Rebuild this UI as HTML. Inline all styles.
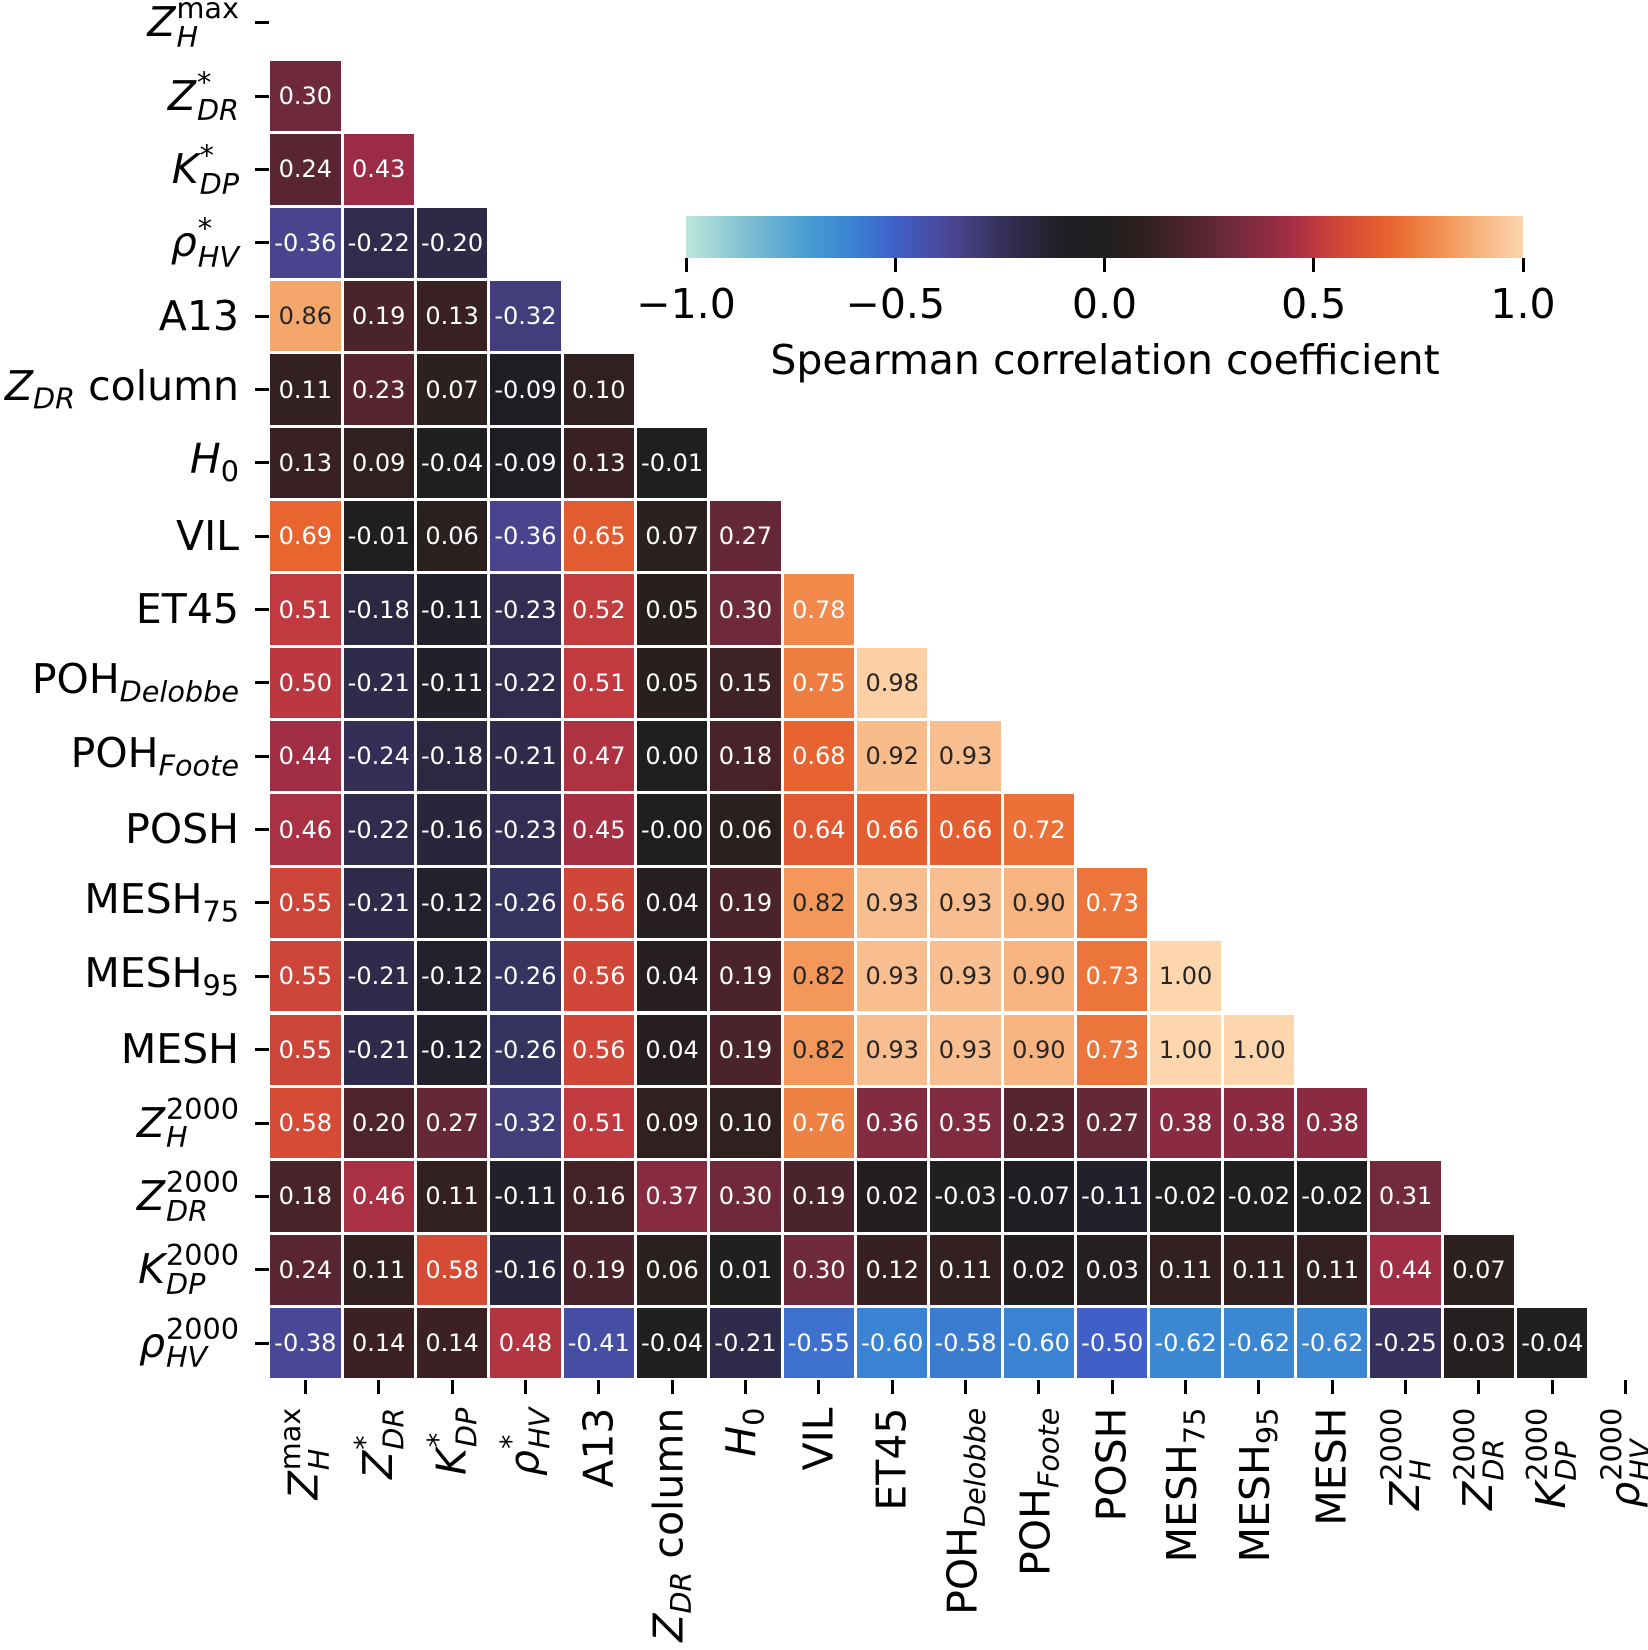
<!DOCTYPE html>
<html><head><meta charset="utf-8">
<style>
html,body{margin:0;padding:0;background:#fff;}
#root{position:relative;width:1648px;height:1650px;overflow:hidden;font-family:"DejaVu Sans","Liberation Sans",sans-serif;color:#000;}
.cell{position:absolute;display:flex;align-items:center;justify-content:center;font-size:24px;}
.ylab{position:absolute;right:1409px;font-size:41px;white-space:nowrap;line-height:1;}
.xlab{position:absolute;font-size:41px;white-space:nowrap;line-height:1;transform-origin:100% 50%;}
.tick{position:absolute;background:#000;}
i{font-style:italic;}
.ss{display:inline-flex;flex-direction:column;font-size:0.7em;line-height:1;vertical-align:0.62em;margin-left:1px;}
.sb{font-size:0.7em;vertical-align:-0.3em;}
.cbl{position:absolute;font-size:41px;transform:translateX(-50%);white-space:nowrap;}
</style></head>
<body>
<div id="root">
  <div id="cbar" style="position:absolute;left:686px;top:216px;width:837px;height:42px;"></div>
  <div class="cbl" style="left:1105px;top:336px;">Spearman correlation coefficient</div>
</div>
<script>
const labels = [
 '<i>Z</i><span class="ss"><span>max</span><i>H</i></span>',
 '<i>Z</i><span class="ss"><span>*</span><i>DR</i></span>',
 '<i>K</i><span class="ss"><span>*</span><i>DP</i></span>',
 '<i>ρ</i><span class="ss"><span>*</span><i>HV</i></span>',
 'A13',
 '<i>Z</i><span class="sb"><i>DR</i></span> column',
 '<i>H</i><span class="sb">0</span>',
 'VIL',
 'ET45',
 'POH<span class="sb"><i>Delobbe</i></span>',
 'POH<span class="sb"><i>Foote</i></span>',
 'POSH',
 'MESH<span class="sb">75</span>',
 'MESH<span class="sb">95</span>',
 'MESH',
 '<i>Z</i><span class="ss"><span>2000</span><i>H</i></span>',
 '<i>Z</i><span class="ss"><span>2000</span><i>DR</i></span>',
 '<i>K</i><span class="ss"><span>2000</span><i>DP</i></span>',
 '<i>ρ</i><span class="ss"><span>2000</span><i>HV</i></span>'
];
const row1=[0.30];
const row2=[0.24,0.43];
const row3=[-0.36,-0.22,-0.20];
const row4=[0.86,0.19,0.13,-0.32];
const row5=[0.11,0.23,0.07,-0.09,0.10];
const row6=[0.13,0.09,-0.04,-0.09,0.13,-0.01];
const row7=[0.69,-0.01,0.06,-0.36,0.65,0.07,0.27];
const row8=[0.51,-0.18,-0.11,-0.23,0.52,0.05,0.30,0.78];
const row9=[0.50,-0.21,-0.11,-0.22,0.51,0.05,0.15,0.75,0.98];
const row10=[0.44,-0.24,-0.18,-0.21,0.47,0.00,0.18,0.68,0.92,0.93];
const row11=[0.46,-0.22,-0.16,-0.23,0.45,-0.001,0.06,0.64,0.66,0.66,0.72];
const row12=[0.55,-0.21,-0.12,-0.26,0.56,0.04,0.19,0.82,0.93,0.93,0.90,0.73];
const row13=[0.55,-0.21,-0.12,-0.26,0.56,0.04,0.19,0.82,0.93,0.93,0.90,0.73,1.00];
const row14=[0.55,-0.21,-0.12,-0.26,0.56,0.04,0.19,0.82,0.93,0.93,0.90,0.73,1.00,1.00];
const row15=[0.58,0.20,0.27,-0.32,0.51,0.09,0.10,0.76,0.36,0.35,0.23,0.27,0.38,0.38,0.38];
const row16=[0.18,0.46,0.11,-0.11,0.16,0.37,0.30,0.19,0.02,-0.03,-0.07,-0.11,-0.02,-0.02,-0.02,0.31];
const row17=[0.24,0.11,0.58,-0.16,0.19,0.06,0.01,0.30,0.12,0.11,0.02,0.03,0.11,0.11,0.11,0.44,0.07];
const row18=[-0.38,0.14,0.14,0.48,-0.41,-0.04,-0.21,-0.55,-0.60,-0.58,-0.60,-0.50,-0.62,-0.62,-0.62,-0.25,0.03,-0.04];
const rows=[[],row1,row2,row3,row4,row5,row6,row7,row8,row9,row10,row11,row12,row13,row14,row15,row16,row17,row18];
const cbTicks=[-1.0,-0.5,0.0,0.5,1.0];
const cbTickLabels=['\u22121.0','\u22120.5','0.0','0.5','1.0'];

const stops=[[-1,[189,231,219]],[-0.85,[125,190,210]],[-0.7,[70,155,210]],[-0.6,[58,130,210]],[-0.5,[64,96,200]],[-0.36,[74,68,143]],[-0.22,[48,44,78]],[-0.09,[31,30,36]],[0,[32,31,31]],[0.11,[51,32,32]],[0.24,[90,37,51]],[0.30,[110,42,60]],[0.43,[156,44,69]],[0.51,[192,58,63]],[0.58,[214,75,53]],[0.69,[233,101,47]],[0.78,[240,137,74]],[0.86,[245,166,107]],[0.93,[248,190,143]],[1,[253,214,174]]];
function cmap(v){
  for(let k=0;k<stops.length-1;k++){
    const a=stops[k],b=stops[k+1];
    if(v<=b[0]){const t=(v-a[0])/(b[0]-a[0]);return 'rgb('+a[1].map((c,i)=>Math.round(c+(b[1][i]-c)*t)).join(',')+')';}
  }
  return 'rgb(253,214,174)';
}
const root=document.getElementById('root');
const X0=268.7,Y0=-13.9,C=73.35,G=1.5;
const xs=j=>X0+j*C, ys=i=>Y0+i*C;
function fmt(v){let s=v.toFixed(2);if(v<0&&s==='0.00')s='-0.00';return s;}
rows.forEach((r,i)=>{
  r.forEach((v,j)=>{
    const d=document.createElement('div');
    
    
    d.className='cell';
    d.style.left=(xs(j)+G)+'px';d.style.top=(ys(i)+G)+'px';
    d.style.width=(C-2*G)+'px';d.style.height=(C-2*G)+'px';
    d.style.background=cmap(v);
    d.style.color=v>0.8?'#262626':'#fff';
    d.textContent=fmt(v);
    root.appendChild(d);
  });
});
const yBottom=Y0+19*C;
labels.forEach((l,i)=>{
  const t=document.createElement('div');
  
  
  t.className='tick';
  t.style.left=(X0-14)+'px';t.style.top=(ys(i)+C/2-1.5)+'px';t.style.width='14px';t.style.height='3px';
  root.appendChild(t);
  const y=document.createElement('div');
  
  
  y.className='ylab';y.innerHTML=l;
  root.appendChild(y);
  y.style.top=(ys(i)+C/2-y.offsetHeight/2)+'px';
  const t2=document.createElement('div');
  
  
  t2.className='tick';
  t2.style.left=(xs(i)+C/2-1.5)+'px';t2.style.top=yBottom+'px';t2.style.width='3px';t2.style.height='14px';
  root.appendChild(t2);
  const x=document.createElement('div');
  
  
  x.className='xlab';x.innerHTML=l;
  root.appendChild(x);
  const w=x.offsetWidth,h=x.offsetHeight;
  x.style.left=(xs(i)+C/2-w)+'px';
  x.style.top=(yBottom+28-h/2)+'px';
  x.style.transform='rotate(-90deg)';
});
const cb=document.getElementById('cbar');
const g=[];for(let k=0;k<=40;k++){const v=-1+k/20;g.push(cmap(v)+' '+(k*2.5)+'%');}
cb.style.background='linear-gradient(to right,'+g.join(',')+')';
const cx=v=>686+(v+1)/2*837;
cbTicks.forEach((v,k)=>{
  const t=document.createElement('div');
  
  
  t.className='tick';
  t.style.left=(cx(v)-1.5)+'px';t.style.top='258px';t.style.width='3px';t.style.height='14px';
  root.appendChild(t);
  const l=document.createElement('div');
  
  
  l.className='cbl';l.textContent=cbTickLabels[k];
  l.style.left=cx(v)+'px';l.style.top='280px';
  root.appendChild(l);
});
</script>
</body></html>
